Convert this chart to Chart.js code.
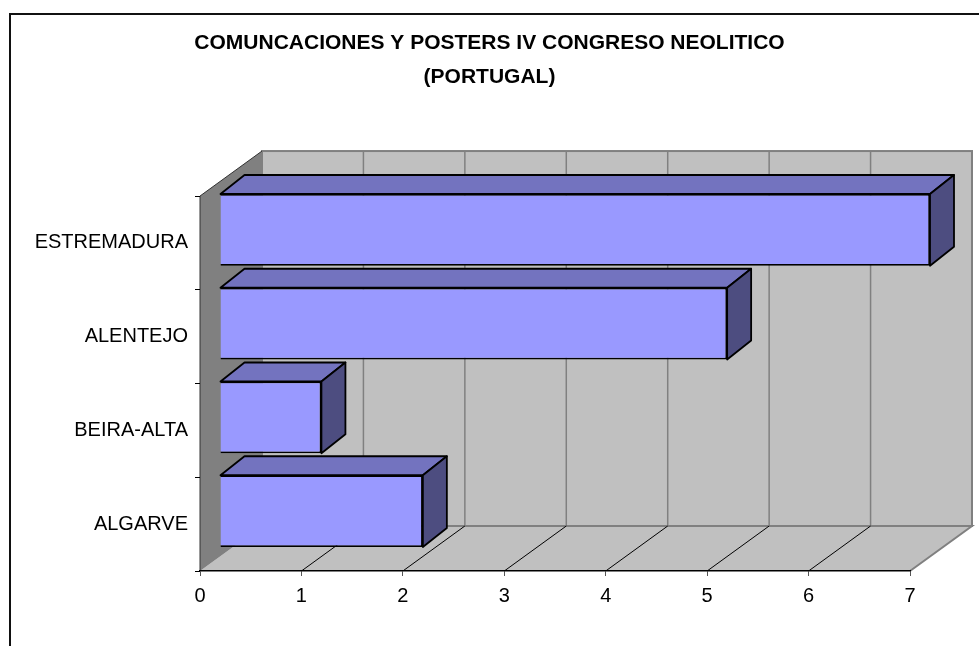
<!DOCTYPE html>
<html>
<head>
<meta charset="utf-8">
<script src="https://cdn.jsdelivr.net/npm/chart.js@4.4.0/dist/chart.umd.min.js"></script>
<style>
  html, body { margin: 0; padding: 0; background: #fff; }
  #wrap { width: 979px; height: 646px; }
</style>
</head>
<body>
<div id="wrap"><canvas id="grafico"></canvas></div>
<script>
// datos del grafico
var regiones = ['ESTREMADURA', 'ALENTEJO', 'BEIRA-ALTA', 'ALGARVE'];
var comunicaciones = [7, 5, 1, 2];
var tituloLineas = ['COMUNCACIONES Y POSTERS IV CONGRESO NEOLITICO', '(PORTUGAL)'];
var escalaMin = 0;
var escalaMax = 7;

// profundidad de las paredes y de las barras (efecto 3D estilo Excel)
var PARED_DX = 62, PARED_DY = -45;
var BARRA_DX = 24, BARRA_DY = -19;
var BARRA_SHIFT_X = 20, BARRA_SHIFT_Y = -13;

var efecto3D = {
    id: 'efecto3D',
    beforeDraw: function (chart) {
        var ctx = chart.ctx;
        var a = chart.chartArea;
        var xs = chart.scales.x;
        ctx.save();
        ctx.fillStyle = '#fff';
        ctx.fillRect(0, 0, chart.width, chart.height);
        // marco exterior
        ctx.strokeStyle = '#111';
        ctx.lineWidth = 2;
        ctx.strokeRect(10, 14, 1200, 1200);

        var L = a.left, R = a.right, T = a.top, B = a.bottom;
        // pared del fondo
        ctx.fillStyle = '#c0c0c0';
        ctx.fillRect(L + PARED_DX, T + PARED_DY, R - L, B - T);
        // lineas de la pared
        ctx.strokeStyle = '#808080';
        ctx.lineWidth = 1.5;
        for (var v = escalaMin + 1; v < escalaMax; v++) {
            var px = xs.getPixelForValue(v) + PARED_DX;
            ctx.beginPath();
            ctx.moveTo(px, T + PARED_DY);
            ctx.lineTo(px, B + PARED_DY);
            ctx.stroke();
        }
        ctx.lineWidth = 2;
        ctx.strokeRect(L + PARED_DX, T + PARED_DY, R - L, B - T);

        // suelo
        ctx.fillStyle = '#c0c0c0';
        ctx.beginPath();
        ctx.moveTo(L, B);
        ctx.lineTo(L + PARED_DX, B + PARED_DY);
        ctx.lineTo(R + PARED_DX, B + PARED_DY);
        ctx.lineTo(R, B);
        ctx.closePath();
        ctx.fill();
        ctx.strokeStyle = '#808080';
        ctx.lineWidth = 2;
        ctx.beginPath();
        ctx.moveTo(R, B);
        ctx.lineTo(R + PARED_DX, B + PARED_DY);
        ctx.lineTo(L + PARED_DX, B + PARED_DY);
        ctx.stroke();
        ctx.strokeStyle = '#000';
        ctx.lineWidth = 1;
        for (var k = escalaMin + 1; k < escalaMax; k++) {
            var fx = xs.getPixelForValue(k);
            ctx.beginPath();
            ctx.moveTo(fx, B);
            ctx.lineTo(fx + PARED_DX, B + PARED_DY);
            ctx.stroke();
        }

        // pared izquierda
        ctx.fillStyle = '#808080';
        ctx.beginPath();
        ctx.moveTo(L, T);
        ctx.lineTo(L + PARED_DX, T + PARED_DY);
        ctx.lineTo(L + PARED_DX, B + PARED_DY);
        ctx.lineTo(L, B);
        ctx.closePath();
        ctx.fill();
        ctx.strokeStyle = '#333';
        ctx.lineWidth = 1;
        ctx.beginPath();
        ctx.moveTo(L, B);
        ctx.lineTo(L, T);
        ctx.lineTo(L + PARED_DX, T + PARED_DY);
        ctx.stroke();
        ctx.restore();
    },
    beforeDatasetsDraw: function (chart) {
        chart.ctx.save();
        chart.ctx.translate(BARRA_SHIFT_X, BARRA_SHIFT_Y);
    },
    afterDatasetsDraw: function (chart) {
        var ctx = chart.ctx;
        var meta = chart.getDatasetMeta(0);
        ctx.lineWidth = 1.8;
        ctx.lineJoin = 'round';
        ctx.strokeStyle = '#000';
        meta.data.forEach(function (bar) {
            var p = bar.getProps(['x', 'y', 'base', 'height'], true);
            var x0 = p.base, x1 = p.x;
            var yT = p.y - p.height / 2, yB = p.y + p.height / 2;
            // cara superior
            ctx.fillStyle = '#7373bf';
            ctx.beginPath();
            ctx.moveTo(x0, yT);
            ctx.lineTo(x0 + BARRA_DX, yT + BARRA_DY);
            ctx.lineTo(x1 + BARRA_DX, yT + BARRA_DY);
            ctx.lineTo(x1, yT);
            ctx.closePath();
            ctx.fill();
            ctx.stroke();
            // cara lateral
            ctx.fillStyle = '#4d4d80';
            ctx.beginPath();
            ctx.moveTo(x1, yT);
            ctx.lineTo(x1 + BARRA_DX, yT + BARRA_DY);
            ctx.lineTo(x1 + BARRA_DX, yB + BARRA_DY);
            ctx.lineTo(x1, yB);
            ctx.closePath();
            ctx.fill();
            ctx.stroke();
        });
        ctx.restore();
    }
};

var ctx = document.getElementById('grafico').getContext('2d');
var chart = new Chart(ctx, {
    type: 'bar',
    data: {
        labels: regiones,
        datasets: [{
            label: 'Comunicaciones',
            data: comunicaciones,
            backgroundColor: '#9999ff',
            borderColor: '#000',
            borderWidth: 1.8,
            categoryPercentage: 1,
            barPercentage: 0.766
        }]
    },
    options: {
        indexAxis: 'y',
        responsive: true,
        maintainAspectRatio: false,
        animation: false,
        layout: { padding: 0 },
        plugins: {
            legend: { display: false },
            tooltip: { enabled: false },
            title: {
                display: true,
                text: tituloLineas,
                color: '#000',
                font: { family: 'Liberation Sans, Arial, sans-serif', size: 21, weight: 'bold', lineHeight: 1.62 },
                padding: { top: 26, bottom: 102 }
            }
        },
        scales: {
            x: {
                min: escalaMin,
                max: escalaMax,
                ticks: {
                    stepSize: 1,
                    color: '#000',
                    padding: 8,
                    font: { family: 'Liberation Sans, Arial, sans-serif', size: 20 }
                },
                grid: { drawOnChartArea: false, drawTicks: true, tickLength: 5, color: '#555' },
                border: { display: true, color: '#000', width: 1.5 },
                afterFit: function (scale) { scale.height = 75; }
            },
            y: {
                ticks: {
                    color: '#000',
                    padding: 7,
                    font: { family: 'Liberation Sans, Arial, sans-serif', size: 20 }
                },
                grid: { drawOnChartArea: false, drawTicks: true, tickLength: 5, color: '#000' },
                border: { display: false },
                afterFit: function (scale) { scale.width = 200; }
            },
            // eje vacio a la derecha para dejar sitio a la profundidad 3D
            margen: {
                type: 'linear',
                position: 'right',
                ticks: { display: false },
                grid: { display: false },
                border: { display: false },
                afterFit: function (scale) { scale.width = 69; }
            }
        }
    },
    plugins: [efecto3D]
});
</script>
</body>
</html>
